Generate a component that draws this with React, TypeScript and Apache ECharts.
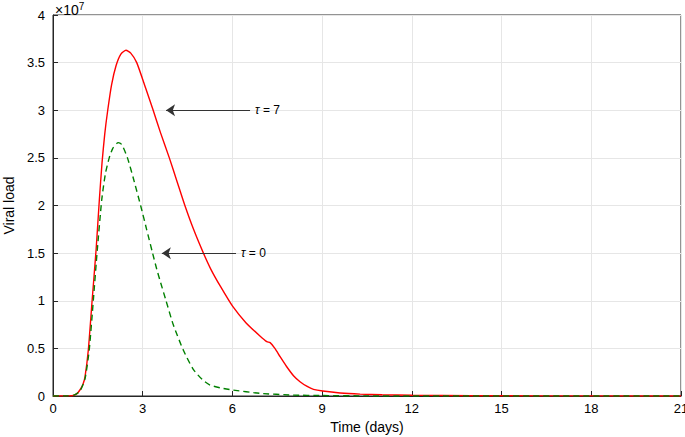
import React, { useEffect, useRef } from "react";
import * as echarts from "echarts";

const xTicks = [0, 3, 6, 9, 12, 15, 18, 21];
const yTicks = [0, 0.5, 1, 1.5, 2, 2.5, 3, 3.5, 4];

// tau = 7 (red, solid)
const tau7X = [0, 0.5, 0.68, 0.8, 0.9, 1.0, 1.07, 1.18, 1.31, 1.44, 1.55, 1.64, 1.73, 1.83, 1.96, 2.11, 2.27, 2.44, 2.6, 2.8, 3.1, 3.35, 3.6, 3.89, 4.15, 4.41, 4.7, 5.03, 5.28, 5.6, 6.01, 6.45, 6.92, 7.15, 7.26, 7.42, 7.6, 7.81, 8.05, 8.26, 8.5, 8.71, 9.02, 9.6, 10.27, 11, 12, 13, 15, 18, 21];
const tau7Y = [0, 0.001, 0.005, 0.025, 0.063, 0.12, 0.2, 0.48, 1.01, 1.53, 2.06, 2.45, 2.75, 3.0, 3.27, 3.47, 3.59, 3.63, 3.6, 3.5, 3.23, 3.0, 2.76, 2.5, 2.25, 2.0, 1.75, 1.5, 1.33, 1.15, 0.94, 0.77, 0.63, 0.57, 0.56, 0.5, 0.41, 0.31, 0.21, 0.15, 0.1, 0.07, 0.052, 0.032, 0.02, 0.013, 0.008, 0.005, 0.002, 0.001, 0];

// tau = 0 (green, dashed)
const tau0X = [0, 0.5, 0.7, 0.9, 1.07, 1.21, 1.35, 1.48, 1.63, 1.75, 1.88, 2.0, 2.18, 2.3, 2.49, 2.7, 2.93, 3.13, 3.33, 3.47, 3.6, 3.78, 4.02, 4.36, 4.69, 5.0, 5.25, 5.6, 6.0, 6.92, 8.0, 9, 10.5, 12, 21];
const tau0Y = [0, 0.001, 0.01, 0.05, 0.18, 0.48, 1.01, 1.53, 2.06, 2.33, 2.5, 2.6, 2.66, 2.64, 2.5, 2.27, 2.0, 1.75, 1.5, 1.33, 1.19, 1.0, 0.75, 0.48, 0.28, 0.17, 0.115, 0.085, 0.063, 0.028, 0.01, 0.005, 0.001, 0, 0];

// annotation arrows: [tailX, tipX, y]
const arrow7 = [6.59, 3.78, 3.0];
const arrow0 = [6.12, 3.64, 1.5];

const FONT = "Liberation Sans, Arial, Helvetica, sans-serif";

export default function App() {
  const ref = useRef<HTMLDivElement>(null);
  useEffect(() => {
    if (!ref.current) return;
    const chart = echarts.init(ref.current, undefined, { renderer: "svg" });
    const pairs = (xs: number[], ys: number[]) => xs.map((x, i) => [x, ys[i]]);
    const arrowLine = (a: number[], label: string) => [
      {
        coord: [a[0], a[2]],
        label: {
          show: true,
          position: "start",
          distance: 5,
          formatter: "{i|τ} = " + label,
          color: "#000",
          fontSize: 12,
          fontFamily: FONT,
          rich: { i: { fontStyle: "italic", fontSize: 12, fontFamily: FONT, color: "#000" } },
        },
      },
      { coord: [a[1], a[2]] },
    ];
    chart.setOption({
      animation: false,
      backgroundColor: "#fff",
      grid: {
        left: 53,
        right: 4,
        top: 15,
        bottom: 41,
        show: true,
        borderColor: "#262626",
        borderWidth: 1,
        containLabel: false,
        outerBoundsMode: "none",
      },
      xAxis: {
        type: "value",
        min: xTicks[0],
        max: xTicks[xTicks.length - 1],
        interval: 3,
        name: "Time (days)",
        nameLocation: "middle",
        nameGap: 24,
        nameTextStyle: { fontSize: 14, color: "#000", fontFamily: FONT },
        axisLine: { show: true, lineStyle: { color: "#262626", width: 1 } },
        axisTick: { show: true, inside: true, length: 5, lineStyle: { color: "#262626" } },
        axisLabel: { fontSize: 13, color: "#000", fontFamily: FONT, margin: 6 },
        splitLine: { show: true, lineStyle: { color: "#e6e6e6", width: 1 } },
      },
      yAxis: {
        type: "value",
        min: yTicks[0],
        max: yTicks[yTicks.length - 1],
        interval: 0.5,
        name: "Viral load",
        nameLocation: "middle",
        nameGap: 37,
        nameTextStyle: { fontSize: 14, color: "#000", fontFamily: FONT },
        axisLine: { show: true, lineStyle: { color: "#262626", width: 1 } },
        axisTick: { show: true, inside: true, length: 5, lineStyle: { color: "#262626" } },
        axisLabel: { fontSize: 13, color: "#000", fontFamily: FONT, margin: 8, formatter: (v: number) => String(v) },
        splitLine: { show: true, lineStyle: { color: "#e6e6e6", width: 1 } },
      },
      graphic: [
        {
          type: "text",
          left: 55,
          top: 1,
          style: {
            text: "×10{s|7}",
            fontSize: 14,
            fontFamily: FONT,
            fill: "#000",
            rich: { s: { fontSize: 10, fontFamily: FONT, verticalAlign: "top", padding: [0, 0, 7, 0] } },
          },
        },
      ],
      series: [
        {
          type: "line",
          name: "tau7",
          data: pairs(tau7X, tau7Y),
          showSymbol: false,
          smooth: 0.2,
          lineStyle: { color: "#ff0000", width: 1.4 },
          itemStyle: { color: "#ff0000" },
          z: 3,
          markLine: {
            silent: true,
            symbol: ["none", "arrow"],
            symbolSize: 9,
            lineStyle: { color: "#333", width: 1, type: "solid" },
            emphasis: { disabled: true },
            data: [arrowLine(arrow7, "7"), arrowLine(arrow0, "0")],
          },
        },
        {
          type: "line",
          name: "tau0",
          data: pairs(tau0X, tau0Y),
          showSymbol: false,
          smooth: 0.2,
          lineStyle: { color: "#008000", width: 1.4, type: [6, 4] },
          itemStyle: { color: "#008000" },
          z: 4,
        },
      ],
    });
    return () => chart.dispose();
  }, []);
  return <div ref={ref} style={{ width: 685, height: 437, position: "absolute", left: 0, top: 0 }} />;
}
